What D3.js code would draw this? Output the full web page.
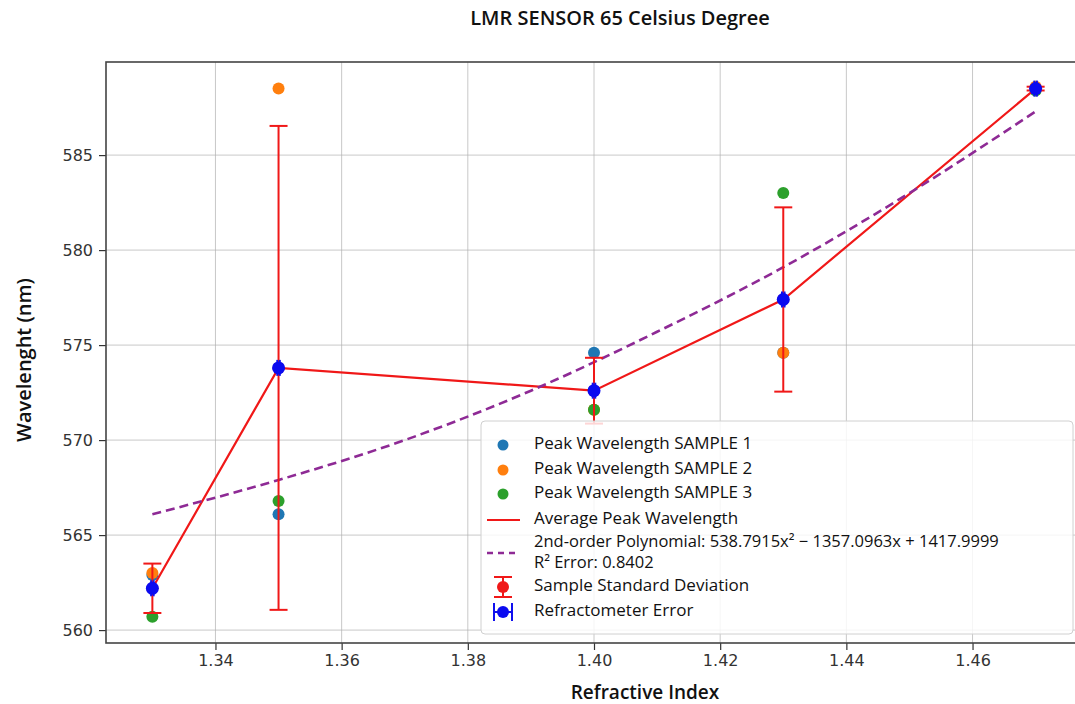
<!DOCTYPE html>
<html lang="en">
<head>
  <meta charset="utf-8">
  <title>LMR SENSOR 65 Celsius Degree</title>
  <style>
    body {
      margin: 0;
      background: #fff;
      overflow: hidden;
    }

    .grid line {
      stroke: #b0b0b0;
      stroke-opacity: 0.7;
      stroke-width: 1;
    }

    .tick text {
      font-family: "DejaVu Sans", sans-serif;
      font-size: 16px;
      fill: #333;
    }

    .lbl {
      font-family: "Open Sans", sans-serif;
      fill: #111;
    }
  </style>
</head>
<body>

  <svg width="1075" height="704"></svg>
  <script src="https://d3js.org/d3.v7.min.js"></script>
  <script>

  // refractive index of each measurement
  var refIndex = [1.33, 1.35, 1.40, 1.43, 1.47];

  // peak wavelength (nm) of the three samples
  var sample1 = [562.9, 566.1, 574.6, 574.6, 588.5];
  var sample2 = [563.0, 588.5, 571.6, 574.6, 588.6];
  var sample3 = [560.7, 566.8, 571.6, 583.0, 588.4];

  // refractometer error on the index
  var refError = [0.0002, 0.0002, 0.0002, 0.0002, 0.0002];

  // 2nd-order fit
  var fitX = [1.33, 1.35, 1.37, 1.39, 1.41, 1.43, 1.45, 1.47];
  var fitY = [566.1, 567.9, 570.0, 572.6, 575.7, 579.1, 583.0, 587.3];

  var xTicks = [1.34, 1.36, 1.38, 1.40, 1.42, 1.44, 1.46];
  var yTicks = [560, 565, 570, 575, 580, 585];

  var legendLabels = [
    "Peak Wavelength SAMPLE 1",
    "Peak Wavelength SAMPLE 2",
    "Peak Wavelength SAMPLE 3",
    "Average Peak Wavelength",
    "2nd-order Polynomial: 538.7915x² − 1357.0963x + 1417.9999",
    "Sample Standard Deviation",
    "Refractometer Error"
  ];

  var sampleColors = ["#1f77b4", "#ff7f0e", "#2ca02c"];

  var svg = d3.select("svg");

  var pL = 106, pR = 1082, pT = 62, pB = 643;

  var x = d3.scaleLinear().domain([1.32265, 1.47735]).range([pL, pR]);
  var y = d3.scaleLinear().domain([559.32, 589.9]).range([pB, pT]);

  // mean and sample standard deviation per index
  var samples = [sample1, sample2, sample3];
  var stats = refIndex.map(function(r, i) {
    var vals = samples.map(function(s) { return s[i]; });
    return { x: r, mean: d3.mean(vals), sd: d3.deviation(vals), xe: refError[i] };
  });

  // grid
  var grid = svg.append("g").attr("class", "grid");
  grid.selectAll(".gx").data(xTicks).enter().append("line")
      .attr("x1", function(d) { return x(d); })
      .attr("x2", function(d) { return x(d); })
      .attr("y1", pT).attr("y2", pB);
  grid.selectAll(".gy").data(yTicks).enter().append("line")
      .attr("x1", pL).attr("x2", pR)
      .attr("y1", function(d) { return y(d); })
      .attr("y2", function(d) { return y(d); });

  // axes
  var xAxis = svg.append("g")
      .attr("transform", "translate(0," + pB + ")")
      .call(d3.axisBottom(x).tickValues(xTicks).tickFormat(d3.format(".2f")).tickSize(7).tickPadding(5));
  var yAxis = svg.append("g")
      .attr("transform", "translate(" + pL + ",0)")
      .call(d3.axisLeft(y).tickValues(yTicks).tickSize(7).tickPadding(6));

  [xAxis, yAxis].forEach(function(a) {
    a.select(".domain").remove();
    a.selectAll(".tick line").attr("stroke", "#333").attr("stroke-width", 1.2);
  });

  // frame
  svg.append("rect")
      .attr("x", pL).attr("y", pT)
      .attr("width", pR - pL).attr("height", pB - pT)
      .attr("fill", "none")
      .attr("stroke", "#444")
      .attr("stroke-width", 1.6);

  // sample points
  samples.forEach(function(s, k) {
    svg.append("g").selectAll("circle")
      .data(s).enter().append("circle")
        .attr("cx", function(d, i) { return x(refIndex[i]); })
        .attr("cy", function(d) { return y(d); })
        .attr("r", 6)
        .attr("fill", sampleColors[k]);
  });

  // average line
  var line = d3.line()
      .x(function(d) { return x(d.x); })
      .y(function(d) { return y(d.mean); });

  svg.append("path")
      .datum(stats)
      .attr("d", line)
      .attr("fill", "none")
      .attr("stroke", "#f01818")
      .attr("stroke-width", 2.2);

  // polynomial fit
  var fitLine = d3.line()
      .x(function(d, i) { return x(fitX[i]); })
      .y(function(d) { return y(d); })
      .curve(d3.curveMonotoneX);

  svg.append("path")
      .datum(fitY)
      .attr("d", fitLine)
      .attr("fill", "none")
      .attr("stroke", "#8e2a95")
      .attr("stroke-width", 2.6)
      .attr("stroke-dasharray", "9,5");

  // standard deviation bars
  var sdBars = svg.append("g")
      .attr("stroke", "#f01818")
      .attr("stroke-width", 2);

  stats.forEach(function(d) {
    var cx = x(d.x), y0 = y(d.mean - d.sd), y1 = y(d.mean + d.sd);
    sdBars.append("line").attr("x1", cx).attr("x2", cx).attr("y1", y0).attr("y2", y1);
    sdBars.append("line").attr("x1", cx - 9).attr("x2", cx + 9).attr("y1", y0).attr("y2", y0);
    sdBars.append("line").attr("x1", cx - 9).attr("x2", cx + 9).attr("y1", y1).attr("y2", y1);
  });

  svg.append("g").selectAll("circle")
    .data(stats).enter().append("circle")
      .attr("cx", function(d) { return x(d.x); })
      .attr("cy", function(d) { return y(d.mean); })
      .attr("r", 6)
      .attr("fill", "#f01818");

  // refractometer error bars
  var refBars = svg.append("g")
      .attr("stroke", "#1010ee")
      .attr("stroke-width", 2);

  stats.forEach(function(d) {
    var cy = y(d.mean), x0 = x(d.x - d.xe), x1 = x(d.x + d.xe);
    refBars.append("line").attr("x1", x0).attr("x2", x1).attr("y1", cy).attr("y2", cy);
    refBars.append("line").attr("x1", x0).attr("x2", x0).attr("y1", cy - 8).attr("y2", cy + 8);
    refBars.append("line").attr("x1", x1).attr("x2", x1).attr("y1", cy - 8).attr("y2", cy + 8);
  });

  svg.append("g").selectAll("circle")
    .data(stats).enter().append("circle")
      .attr("cx", function(d) { return x(d.x); })
      .attr("cy", function(d) { return y(d.mean); })
      .attr("r", 6.5)
      .attr("fill", "#0a0af0");

  // legend
  var lg = svg.append("g");

  lg.append("rect")
      .attr("x", 481).attr("y", 421)
      .attr("width", 592).attr("height", 213)
      .attr("rx", 4)
      .attr("fill", "#fff")
      .attr("fill-opacity", 0.82)
      .attr("stroke", "#d0d0d0");

  var rowY = [443, 468, 492, 518, 541, 585, 610];
  var tx = 534, mx = 503;

  lg.selectAll("text.item")
    .data(legendLabels).enter().append("text")
      .attr("class", "lbl")
      .attr("x", tx)
      .attr("y", function(d, i) { return rowY[i]; })
      .attr("dy", "0.35em")
      .style("font-size", function(d, i) { return i == 4 ? "16.5px" : "17px"; })
      .text(function(d) { return d; });

  lg.append("text")
      .attr("class", "lbl")
      .attr("x", tx).attr("y", 562).attr("dy", "0.35em")
      .style("font-size", "16.5px")
      .text("R² Error: 0.8402");

  sampleColors.forEach(function(c, i) {
    lg.append("circle").attr("cx", mx).attr("cy", rowY[i] + 2).attr("r", 5.5).attr("fill", c);
  });

  lg.append("line")
      .attr("x1", 487).attr("x2", 520).attr("y1", rowY[3] + 2).attr("y2", rowY[3] + 2)
      .attr("stroke", "#f01818").attr("stroke-width", 2.2);

  lg.append("line")
      .attr("x1", 487).attr("x2", 520).attr("y1", 553).attr("y2", 553)
      .attr("stroke", "#8e2a95").attr("stroke-width", 2.6)
      .attr("stroke-dasharray", "6,5");

  // std dev marker in legend
  var ly = rowY[5] + 2;
  lg.append("line").attr("x1", mx).attr("x2", mx).attr("y1", ly - 10).attr("y2", ly + 10)
      .attr("stroke", "#f01818").attr("stroke-width", 2);
  lg.append("line").attr("x1", mx - 9).attr("x2", mx + 9).attr("y1", ly - 10).attr("y2", ly - 10)
      .attr("stroke", "#f01818").attr("stroke-width", 2);
  lg.append("line").attr("x1", mx - 9).attr("x2", mx + 9).attr("y1", ly + 10).attr("y2", ly + 10)
      .attr("stroke", "#f01818").attr("stroke-width", 2);
  lg.append("circle").attr("cx", mx).attr("cy", ly).attr("r", 6).attr("fill", "#f01818");

  // refractometer marker in legend
  var ry = rowY[6] + 2;
  lg.append("line").attr("x1", mx - 9).attr("x2", mx + 9).attr("y1", ry).attr("y2", ry)
      .attr("stroke", "#1010ee").attr("stroke-width", 2);
  lg.append("line").attr("x1", mx - 9).attr("x2", mx - 9).attr("y1", ry - 9).attr("y2", ry + 9)
      .attr("stroke", "#1010ee").attr("stroke-width", 2);
  lg.append("line").attr("x1", mx + 9).attr("x2", mx + 9).attr("y1", ry - 9).attr("y2", ry + 9)
      .attr("stroke", "#1010ee").attr("stroke-width", 2);
  lg.append("circle").attr("cx", mx).attr("cy", ry).attr("r", 6).attr("fill", "#0a0af0");

  // titles
  svg.append("text")
      .attr("class", "lbl")
      .attr("x", 620).attr("y", 18).attr("dy", "0.35em")
      .attr("text-anchor", "middle")
      .style("font-size", "20px").style("font-weight", 600)
      .text("LMR SENSOR 65 Celsius Degree");

  svg.append("text")
      .attr("class", "lbl")
      .attr("x", 645).attr("y", 692).attr("dy", "0.35em")
      .attr("text-anchor", "middle")
      .style("font-size", "19px").style("font-weight", 600)
      .text("Refractive Index");

  svg.append("text")
      .attr("class", "lbl")
      .attr("transform", "translate(24,360) rotate(-90)")
      .attr("dy", "0.35em")
      .attr("text-anchor", "middle")
      .style("font-size", "20px").style("font-weight", 600)
      .text("Wavelenght (nm)");

  </script>

</body>
</html>
